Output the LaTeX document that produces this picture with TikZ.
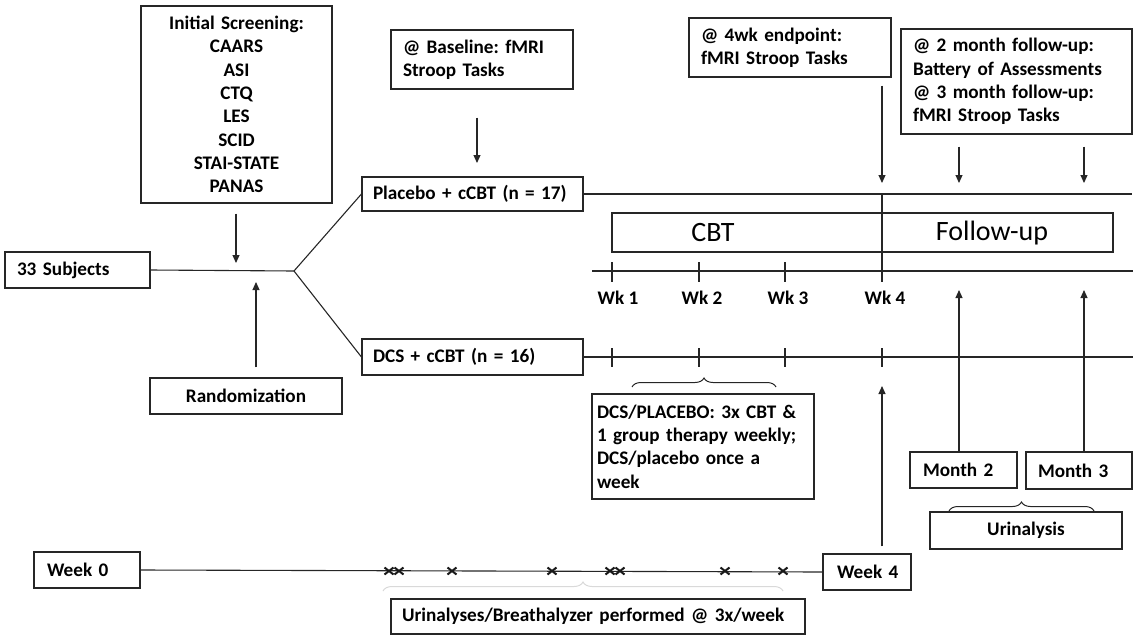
\documentclass[tikz,border=0pt]{standalone}
\usepackage{fontspec}
\setmainfont{Carlito}
\usetikzlibrary{arrows.meta,decorations.pathreplacing,calc}
\frenchspacing
\begin{document}
\begin{tikzpicture}[x=1pt,y=-1pt,
  ln/.style={draw=black!85, line width=1.1pt},
  fnt/.style={font=\bfseries\fontsize{19.2}{23.3}\selectfont},
  bx/.style={ln, inner ysep=0pt, fnt},
  lb/.style 2 args={bx, align=left, text width=#1, inner xsep=#2},
  cb/.style={bx, align=center, inner xsep=4pt},
  arr/.style={ln, -{Triangle[length=8pt,width=7pt]}},
  tick/.style={ln},
  lab/.style={fnt, inner sep=0pt},
  big/.style={font=\fontsize{28}{32}\selectfont, inner sep=0pt},
  xm/.style={draw=black!90, line width=2pt},
  brc/.style={ln, line width=1pt, decorate, decoration={brace, amplitude=9pt}}
]
\useasboundingbox (0,0) rectangle (1136,635);

% ---------- boxes ----------
\node[cb, text width=183, minimum height=197] (screen) at (236.5,104.5)
  {Initial Screening:\\CAARS\\ASI\\CTQ\\LES\\SCID\\STAI-STATE\\PANAS};
\node[lb={121}{12}, minimum height=36] (subj) at (77.5,270) {33~Subjects};
\node[cb, minimum width=192, minimum height=36] (rand) at (246,396) {Randomization};
\node[lb={199}{11}, minimum height=34] (plac) at (472.5,194) {Placebo~+~cCBT~(n~=~17)};
\node[lb={199}{11}, minimum height=36] (dcs) at (472.5,357) {DCS~+~cCBT~(n~=~16)};
\node[lb={158}{12}, minimum height=59] (base) at (482,59.5) {@ Baseline: fMRI\\Stroop Tasks};
\node[lb={178}{12}, minimum height=59] (end4) at (790,47.5) {@ 4wk endpoint:\\fMRI Stroop Tasks};
\node[lb={207}{12}, minimum height=105] (fol) at (1016.5,81.5)
  {@ 2 month follow-up:\\Battery of Assessments\\@ 3 month follow-up:\\fMRI Stroop Tasks};
\node[lb={212}{5}, minimum height=105] (dcsp) at (703,446.5)
  {DCS/PLACEBO: 3x CBT \&\\1 group therapy weekly;\\DCS/placebo once a\\week};
\node[lb={81}{13}, minimum height=36] (m2) at (963.5,470) {Month~2};
\node[lb={82}{12}, minimum height=37] (m3) at (1079,470.5) {Month~3};
\node[cb, minimum width=192, minimum height=37] (urin) at (1026,530.5) {Urinalysis};
\node[lb={80}{13}, minimum height=36] (w0) at (87,570) {Week~0};
\node[lb={60}{14}, minimum height=36] (w4) at (867,572) {Week~4};
\node[lb={392}{11}, minimum height=35] (ub) at (598,616.5) {Urinalyses/Breathalyzer~performed~@~3x/week};

% CBT / Follow-up band
\node[ln, minimum width=501, minimum height=39, inner sep=0pt] (band) at (862.5,232.5) {};
\node[big] (cbt) at (713,233) {CBT};
\node[big] (fup) at (992,233) {Follow-up};

% ---------- branching ----------
\coordinate (br) at (294,271);
\draw[ln] (subj.east) -- (br);
\draw[ln] (br) -- (plac.west);
\draw[ln] (br) -- (dcs.west);
\coordinate (tipS) at (236,263);
\draw[arr, shorten <=10pt] (tipS |- screen.south) -- (tipS);
\coordinate (tipR) at (256,282);
\draw[arr, shorten <=10pt] (tipR |- rand.north) -- (tipR);

% ---------- arm lines ----------
\coordinate (pend) at (1132,194);
\draw[ln] (plac.east) -- (pend);
\coordinate (dend) at (1133,357);
\draw[ln] (dcs.east) -- (dend);

% top-down arrows
\coordinate (tipB) at (477,163);
\draw[arr, shorten <=28pt] (tipB |- base.south) -- (tipB);
\coordinate (tip4) at (882,183);
\draw[arr, shorten <=8pt] (tip4 |- end4.south) -- (tip4);
\coordinate (tipF2) at (959,183);
\draw[arr, shorten <=12pt] (tipF2 |- fol.south) -- (tipF2);
\coordinate (tipF3) at (1084,183);
\draw[arr, shorten <=12pt] (tipF3 |- fol.south) -- (tipF3);

% week-4 divider
\coordinate (vtop) at (882,194);
\coordinate (vbot) at (882,282);
\draw[ln] (vtop) -- (vbot);

% week timeline
\coordinate (tl0) at (592,271);
\coordinate (tl1) at (1133,271);
\draw[ln] (tl0) -- (tl1);
\foreach \x in {612,699,785} \draw[tick] (\x,262) -- (\x,282);
\node[lab] (wk1) at (618,298) {Wk 1};
\node[lab] (wk2) at (702,298) {Wk 2};
\node[lab] (wk3) at (788,298) {Wk 3};
\node[lab] (wk4) at (885,298) {Wk 4};

% ticks on DCS line
\foreach \x in {612,699,785,882} \draw[tick] (\x,348) -- (\x,367);

% up arrows
\coordinate (tipW4) at (882,386);
\draw[arr, shorten <=7pt] (tipW4 |- w4.north) -- (tipW4);
\coordinate (tipM2) at (959,290);
\draw[arr] (tipM2 |- m2.north) -- (tipM2);
\coordinate (tipM3) at (1084,290);
\draw[arr] (tipM3 |- m3.north) -- (tipM3);

% bottom timeline
\draw[ln] (w0.east) -- (w4.west);
\foreach \x in {389,399,452,552,610,620,725,783}
  \draw[xm] ({\x-4.5},567.5) -- ({\x+4.5},574.5) ({\x-4.5},574.5) -- ({\x+4.5},567.5);

% braces
\draw[brc] (632,387) -- (776,387);
\draw[brc] (949,511) -- (1094,511);
\draw[brc, draw=black!15] (383,591) -- (783,591);
\end{tikzpicture}
\end{document}
